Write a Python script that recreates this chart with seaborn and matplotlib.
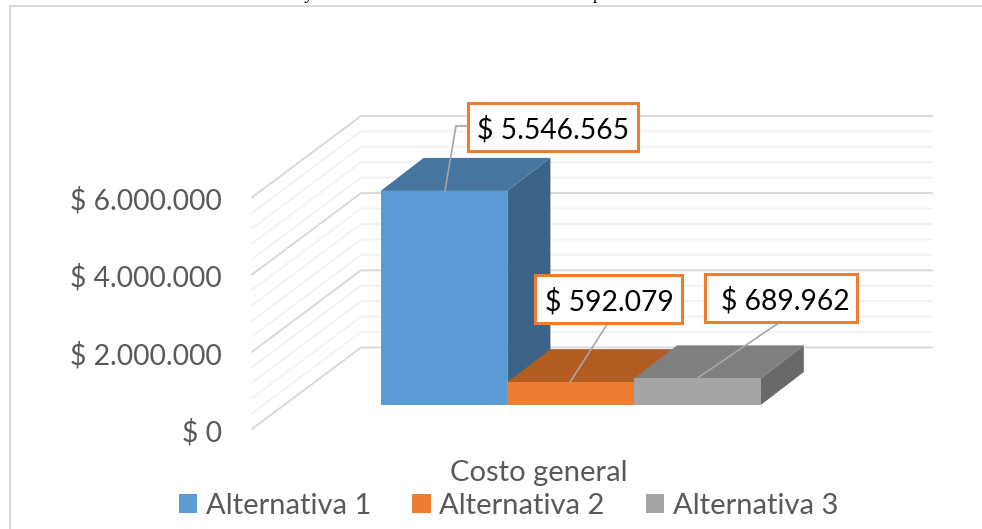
import matplotlib
matplotlib.use("Agg")
import matplotlib.pyplot as plt
from matplotlib.lines import Line2D
from matplotlib.patches import Polygon, Rectangle
import numpy as np
import pandas as pd
import seaborn as sns

alternatives = ["Alternativa 1", "Alternativa 2", "Alternativa 3"]
costs = [5546565, 592079, 689962]
front_colors = ["#5B9BD5", "#ED7D31", "#A5A5A5"]
top_colors = ["#4675A0", "#B35C22", "#7F7F7F"]
side_colors = ["#3B6387", "#8F4B1D", "#696969"]
major_ticks = [0, 2000000, 4000000, 6000000]
minor_step = 400000
axis_title = "Costo general"

W, H = 982, 529
sns.set_theme(style="white")
plt.rcParams["font.family"] = ["Lato", "DejaVu Sans"]
fig = plt.figure(figsize=(W / 100, H / 100), dpi=100)
ax = fig.add_axes([0, 0, 1, 1])

df = pd.DataFrame({"alt": alternatives, "cost": costs})
sns.barplot(data=df, x="alt", y="cost", hue="alt", hue_order=alternatives,
            palette=front_colors, width=1, dodge=False, legend=True, ax=ax,
            saturation=1, linewidth=0)

# pixel <-> data layout
x0_px, ux = 380.7, 126.7     # pixel of left bar edge, px per category
y0_px, uy = 405.0, 38.6e-6   # pixel of base, px per currency unit
ax.set_xlim(-0.5 - x0_px / ux, -0.5 + (W - x0_px) / ux)
ax.set_ylim((y0_px - H) / uy, y0_px / uy)
ax.axis("off")
px = lambda p: -0.5 + (p - x0_px) / ux
py = lambda p: (y0_px - p) / uy

# walls: gridlines
back_off = py(347.5)
front_off = py(429)
xl_front, xl_back, x_right = px(252), px(361), px(932)
for v in np.arange(0, major_ticks[-1] + 1, minor_step):
    major = any(abs(v - m) < 1 for m in major_ticks)
    c = "#D9D9D9" if major else "#F2F2F2"
    ax.plot([xl_front, xl_back, x_right], [v + front_off, v + back_off, v + back_off],
            color=c, lw=1.4, zorder=1, solid_joinstyle="miter")

# bar depth
ddx, ddy = 43 / ux, 33 / uy
bars = [p for c in ax.containers for p in c if p.get_height() > 0]
for i, b in enumerate(bars):
    b.set_zorder(3 + i * 3 + 2)
    x, w, h = b.get_x(), b.get_width(), b.get_height()
    ax.add_patch(Polygon([(x + w, 0), (x + w + ddx, ddy), (x + w + ddx, h + ddy), (x + w, h)],
                         closed=True, fc=side_colors[i], ec="none", zorder=3 + i * 3))
    ax.add_patch(Polygon([(x, h), (x + ddx, h + ddy), (x + w + ddx, h + ddy), (x + w, h)],
                         closed=True, fc=top_colors[i], ec="none", zorder=3 + i * 3 + 1))

# tick labels
money = lambda v: "$ " + f"{v:,.0f}".replace(",", ".")
for v in major_ticks:
    ax.text(px(222), v + front_off - 3.5 / uy, money(v), ha="right", va="center",
            fontsize=20.3, color="#595959", zorder=20)

# data labels: leader start (on bar top), elbow, box
boxes = [(468, 103, 638, 151), (535, 275, 682, 323), (705, 274, 857, 322)]
text_x = [553, 609, 785]
leaders = [[(445, None), (456, 126), (468, 126)],
           [(570, None), (608, 323)],
           [(697, None), (780, 322)]]
for i, (b, box, tx, lead) in enumerate(zip(bars, boxes, text_x, leaders)):
    h = b.get_height()
    xs = [px(p[0]) for p in lead]
    ys = [h if p[1] is None else py(p[1]) for p in lead]
    ax.plot(xs, ys, color="#A6A6A6", lw=1.2, zorder=30)
    ax.add_patch(Rectangle((px(box[0]), py(box[3])), px(box[2]) - px(box[0]), py(box[1]) - py(box[3]),
                           fc="white", ec="#ED7D31", lw=2.2, zorder=31))
    ax.text(px(tx), py((box[1] + box[3]) / 2 + 3), money(costs[i]), ha="center", va="center",
            fontsize=20.3, color="black", zorder=32)

ax.text(px(538.5), py(473), axis_title, ha="center", va="center", fontsize=21, color="#595959")

# legend
sns.move_legend(ax, "center", bbox_to_anchor=(508.5 / W, 1 - 506 / H), ncol=3, frameon=False,
                title=None, fontsize=21, handlelength=0.63, handleheight=0.63,
                handletextpad=0.3, columnspacing=1.4, labelcolor="#595959")

# outer chart frame: only the left and top edges are inside the picture
fig.add_artist(Line2D([9.5 / W, 9.5 / W, 1], [0, 1 - 5.5 / H, 1 - 5.5 / H],
                      transform=fig.transFigure, color="#D9D9D9", lw=1.5))
# descenders of the caption above, cut by the top edge
for gx, g in [(309, "y"), (598, "p")]:
    fig.text(gx / W, 1 + 1 / H, g, fontsize=13, style="italic", family="Liberation Serif",
             ha="center", va="baseline", color="black")

fig.savefig("out.png", dpi=100)
